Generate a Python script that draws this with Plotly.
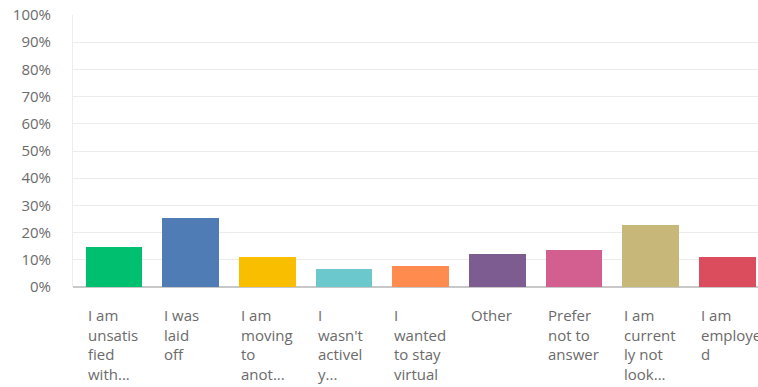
import plotly.graph_objects as go

# Survey answers (wrapped as shown under each bar)
categories = [
    "I am<br>unsatis<br>fied<br>with...",
    "I was<br>laid<br>off",
    "I am<br>moving<br>to<br>anot...",
    "I<br>wasn't<br>activel<br>y...",
    "I<br>wanted<br>to stay<br>virtual",
    "Other",
    "Prefer<br>not to<br>answer",
    "I am<br>current<br>ly not<br>look...",
    "I am<br>employe<br>d",
]
shares = [14.6, 25.5, 10.9, 6.7, 7.7, 12.0, 13.6, 22.9, 10.9]
colors = ["#00BF6F", "#507CB6", "#F9BE00", "#6BC8CD", "#FF8B4F",
          "#7D5D91", "#D25F90", "#C7B879", "#DB4D5C"]
y_ticks = list(range(0, 101, 10))
y_tick_labels = [f"{v}%" for v in y_ticks]

BAR_WIDTH = 0.737
xs = list(range(len(categories)))

fig = go.Figure(
    go.Bar(
        x=xs,
        y=shares,
        width=BAR_WIDTH,
        marker=dict(color=colors, line=dict(width=0)),
        hoverinfo="skip",
    )
)

# Category labels, left aligned at each bar's left edge
for i, label in enumerate(categories):
    fig.add_annotation(
        x=i - BAR_WIDTH / 2,
        xref="x",
        y=-0.058,
        yref="paper",
        text=label,
        showarrow=False,
        xanchor="left",
        yanchor="top",
        align="left",
        font=dict(family="Open Sans", size=15, color="#6b6b6b"),
    )

fig.update_layout(
    width=758,
    height=387,
    margin=dict(l=73, r=0, t=15, b=100),
    paper_bgcolor="white",
    plot_bgcolor="white",
    showlegend=False,
    bargap=0,
    font=dict(family="Open Sans", size=14, color="#6b6b6b"),
    xaxis=dict(
        range=[-0.535, 8.40],
        showticklabels=False,
        showgrid=False,
        zeroline=False,
        showline=False,
        fixedrange=True,
    ),
    yaxis=dict(
        range=[0, 100],
        tickvals=y_ticks,
        ticktext=y_tick_labels,
        showgrid=True,
        gridcolor="#ececec",
        gridwidth=1,
        zeroline=True,
        zerolinecolor="#c8c8c8",
        zerolinewidth=1.5,
        showline=True,
        linecolor="#ececec",
        linewidth=1,
        ticks="",
        ticklabelstandoff=18,
        tickfont=dict(family="Open Sans", size=15, color="#6b6b6b"),
        fixedrange=True,
    ),
)

fig.write_html("out.html")
